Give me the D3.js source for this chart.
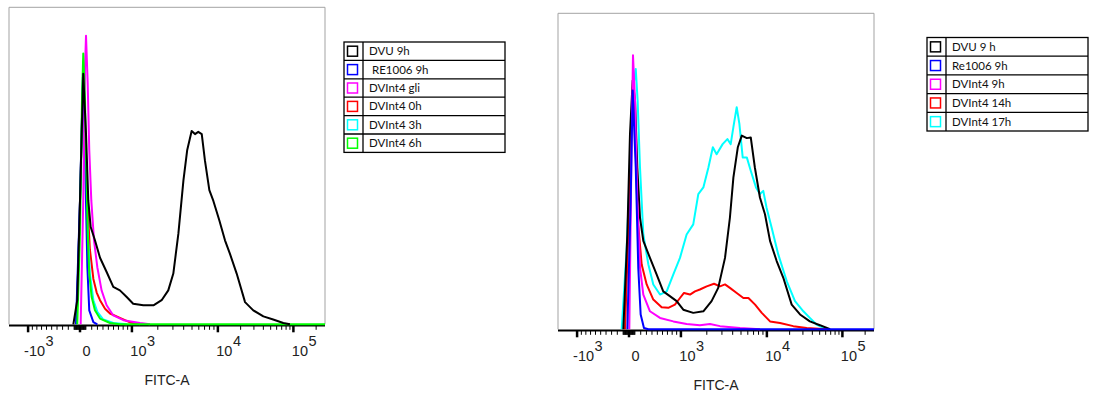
<!DOCTYPE html>
<html>
<head>
<meta charset="utf-8">
<script src="https://cdn.jsdelivr.net/npm/d3@7"></script>
<style>
  body { margin: 0; background: #fff; }
  svg { display: block; }
</style>
</head>
<body>
<div id="chart"></div>
<script>
// histogram data: x = display channel (0-1000 across the FITC-A axis), y = % of plot height
const leftDVU = [[203.6,0],[216,7.6],[224.7,39],[235,79],[243.7,60],[251,39],[258.5,30.7],[272,26.5],[288,21],[309,16.5],[330,11.8],[351,10.7],[372.5,8.6],[393,6.5],[425,6],[457,6],[483,7.6],[504,10.7],[520,16],[536,28.6],[552,45.4],[564,55],[578,61],[588.6,60],[599,60.7],[610,60],[620,51.7],[634,42.3],[646.5,39],[665.5,32.8],[683.5,26.5],[699,22.3],[720.5,16],[747,7],[773,4.4],[805,2.5],[836,1.5],[868,0.4],[889,0]];
const leftRE1006 = [[212,0],[224.7,39],[234,78],[241.5,49],[248,18],[254,4.4],[267,0.7],[279.5,0]];
const leftGli = [[226.8,0],[235,39],[240.5,81],[243.7,91],[249,76],[254,55],[260.5,39],[269,26.5],[279.5,18],[293,10.7],[309,6],[330,2.8],[362,1.3],[414.5,0.4],[446,0]];
const left0h = [[214,0],[224.7,39],[234,77],[241.5,60],[248,39],[256,23.6],[267,14.3],[277.5,10],[288,7.6],[304,4.9],[319.6,3.4],[351,2],[383,0.6],[414.5,0]];
const left3h = [[214,0],[224.7,39],[234,78],[241.5,57],[248,31.5],[256,16],[267,7.6],[279.5,3.9],[298.5,1.5],[330,0.4],[372.5,0]];
const left6h = [[216,0],[224.7,28.6],[231,70.7],[235,85.4],[240.5,70.7],[244.6,49.6],[249,28.6],[254,16],[261.6,8.6],[272,4.4],[288,1.8],[319.6,0.4],[351,0],[1000,0]];

const rightDVU = [[206.8,0],[219.4,30],[227.8,61.8],[236.3,78.7],[243.7,72.4],[251,51.2],[259.5,35.3],[270,28],[291,22.6],[312,17.4],[333,12],[354,10.5],[375.5,8.9],[396.5,6.2],[428,5.2],[460,5.7],[486,8.9],[507,13.1],[528.5,22.6],[544,35.3],[555,48],[569,57.6],[581.6,61.3],[597.5,60.5],[610,60.7],[623,51.2],[639,41.7],[655,36.4],[671,28],[692,21.6],[713,16.3],[739.5,7.8],[766,4.7],[797,2.5],[829,1.3],[861,0]];
const rightRe1006 = [[219.4,0],[230,40.6],[236.3,75.6],[246,51.2],[254,19.5],[261.6,4.7],[272,0.4],[286,0],[1000,0]];
const right9h = [[225.7,0],[232,51.2],[237.3,86.7],[243.7,72.4],[251,40.6],[259.5,19.5],[270,11],[291,5.7],[322.8,3.6],[365,2.5],[407,1.7],[449,1.3],[481,1.7],[512.7,1],[576,0.4],[639,0]];
const right14h = [[212,0],[222.5,30],[230,59.7],[237.3,77.7],[244.6,61.8],[252,35.3],[264.8,20.5],[280.6,14.2],[301.6,9.4],[328,7],[349,6.8],[370,7.8],[386,9.9],[398.7,11.5],[417.7,11],[433.5,12],[449,12.6],[470.5,13.6],[493.7,14.4],[512.7,13.6],[528.5,14.2],[544,13.1],[565.5,11.5],[586.6,9.9],[602.6,9.9],[623.7,7.8],[644.8,5.2],[671,2.5],[702.5,2],[744.7,1],[787,0.4],[850,0]];
const right17h = [[201.5,0],[217,24.8],[230,56.5],[238,76.6],[246,82.4],[252,72.4],[259.5,51.2],[270,30],[286,20.5],[301.6,14.2],[322.8,11],[344,12],[365,17.4],[386,22.6],[407,30],[428,33.2],[444,42.8],[460,44.9],[476,51.2],[490,57.6],[502,55.4],[521,58.6],[536,60.2],[546.5,58.6],[555,64],[565.5,70.3],[574,65],[584.5,54.4],[597.5,54.4],[610,50.2],[626.6,44.9],[639,42.8],[649.6,43.8],[660,38.5],[676,32.2],[697,23.7],[724,15.2],[750,8.9],[776.5,5.7],[797,3.6],[818,1.5],[850,0]];

const leftNames = ["DVU 9h", " RE1006 9h", "DVInt4 gli", "DVInt4 0h", "DVInt4 3h", "DVInt4 6h"];
const leftColors = ["#000000", "#0000ff", "#ff00ff", "#ff0000", "#00ffff", "#00ff00"];
const leftSeries = [leftDVU, leftRE1006, leftGli, left0h, left3h, left6h];
const leftOrder = [3, 4, 1, 2, 5, 0];

const rightNames = ["DVU 9 h", "Re1006 9h", "DVInt4 9h", "DVInt4 14h", "DVInt4 17h"];
const rightColors = ["#000000", "#0000ff", "#ff00ff", "#ff0000", "#00ffff"];
const rightSeries = [rightDVU, rightRe1006, right9h, right14h, right17h];
const rightOrder = [4, 3, 0, 2, 1];

// axis calibration: channel of 0 / 1000 and of each positive decade
const zeroChannel = 224.7;
const thousandChannel = 389;
const decades = [1e3, 1e4, 1e5];
const decadeChannels = [389, 661, 900];
const majorTicks = [-1000, 0, 1000, 1e4, 1e5];
const tickBase = ["-10", "0", "10", "10", "10"];
const tickSup = ["3", "", "3", "4", "5"];
const axisTitle = "FITC-A";

function toChannel(v) {
  const a = Math.abs(v), s = Math.sign(v);
  if (a <= 1000) {
    return zeroChannel + s * (thousandChannel - zeroChannel) * Math.asinh(a / 1000) / Math.asinh(1);
  }
  const lg = Math.log10(a);
  let i = Math.min(Math.floor(lg) - 3, decades.length - 2);
  const c0 = decadeChannels[i], c1 = decadeChannels[i + 1];
  return c0 + (lg - Math.log10(decades[i])) * (c1 - c0);
}

const minorTicks = [];
for (let k = 1; k <= 9; k++) {
  minorTicks.push(k * 10, -k * 10);
  if (k > 1) minorTicks.push(k * 100, -k * 100, k * 1000, k * 1e4);
  else minorTicks.push(100, -100);
}
minorTicks.push(2e5);

const svg = d3.select("#chart").append("svg")
  .attr("width", 1099)
  .attr("height", 394);

const plotW = 316;

function drawPanel(px, py, plotH, series, colors, order) {
  const g = svg.append("g").attr("transform", `translate(${px},${py})`);
  const x = d3.scaleLinear().domain([0, 1000]).range([0, plotW]);
  const y = d3.scaleLinear().domain([0, 100]).range([plotH, 0]);

  g.append("path")
    .attr("d", `M0,${plotH}V0H${plotW}V${plotH}`)
    .attr("fill", "none")
    .attr("stroke", "#a3a3a3")
    .attr("stroke-width", 1);

  // bottom axis line
  g.append("line")
    .attr("x1", 0).attr("x2", plotW)
    .attr("y1", plotH + 1.2).attr("y2", plotH + 1.2)
    .attr("stroke", "#000").attr("stroke-width", 2.2);

  g.selectAll(".minor")
    .data(minorTicks.filter(v => toChannel(v) > 0 && toChannel(v) < 1000))
    .join("line")
    .attr("x1", d => x(toChannel(d))).attr("x2", d => x(toChannel(d)))
    .attr("y1", plotH + 1).attr("y2", plotH + 5.5)
    .attr("stroke", "#000").attr("stroke-width", 1);

  g.selectAll(".major")
    .data(majorTicks)
    .join("line")
    .attr("x1", d => x(toChannel(d))).attr("x2", d => x(toChannel(d)))
    .attr("y1", plotH + 1).attr("y2", plotH + 8)
    .attr("stroke", "#000").attr("stroke-width", 2.5);

  majorTicks.forEach((v, i) => {
    const cx = x(toChannel(v)) + 6.5;
    const t = g.append("text")
      .attr("x", cx).attr("y", plotH + 32)
      .attr("text-anchor", "middle")
      .attr("font-family", "Liberation Sans, Arial, sans-serif")
      .attr("font-size", 14.5)
      .attr("fill", "#222")
      .text(tickBase[i]);
    if (tickSup[i]) {
      const w = t.node().getComputedTextLength();
      g.append("text")
        .attr("x", cx + w / 2 + 0.5).attr("y", plotH + 22)
        .attr("font-family", "Liberation Sans, Arial, sans-serif")
        .attr("font-size", 14.5)
        .attr("fill", "#222")
        .text(tickSup[i]);
    }
  });

  g.append("text")
    .attr("x", plotW / 2).attr("y", plotH + 60.5)
    .attr("text-anchor", "middle")
    .attr("font-family", "Liberation Sans, Arial, sans-serif")
    .attr("font-size", 14)
    .attr("fill", "#222")
    .text(axisTitle);

  const line = d3.line().x(d => x(d[0])).y(d => y(d[1]));
  g.selectAll(".hist")
    .data(order)
    .join("path")
    .attr("d", i => line(series[i]))
    .attr("fill", "none")
    .attr("stroke", i => colors[i])
    .attr("stroke-width", 2)
    .attr("stroke-linejoin", "round");
}

function drawLegend(lx, ly, lw, divX, rowH, names, colors) {
  const g = svg.append("g").attr("transform", `translate(${lx},${ly})`);
  const n = names.length;
  g.append("rect")
    .attr("width", lw).attr("height", rowH * n)
    .attr("fill", "#fff").attr("stroke", "#000").attr("stroke-width", 1.3);
  for (let i = 1; i < n; i++) {
    g.append("line")
      .attr("x1", 0).attr("x2", lw)
      .attr("y1", i * rowH).attr("y2", i * rowH)
      .attr("stroke", "#000").attr("stroke-width", 1.3);
  }
  g.append("line")
    .attr("x1", divX).attr("x2", divX)
    .attr("y1", 0).attr("y2", rowH * n)
    .attr("stroke", "#000").attr("stroke-width", 1.3);
  names.forEach((name, i) => {
    g.append("rect")
      .attr("x", 3.5).attr("y", i * rowH + (rowH - 10) / 2)
      .attr("width", 10).attr("height", 10)
      .attr("fill", "none").attr("stroke", colors[i]).attr("stroke-width", 1.5);
    g.append("text")
      .attr("x", divX + 6).attr("y", i * rowH + rowH / 2 + 4)
      .attr("font-family", "Lato, Liberation Sans, sans-serif")
      .attr("font-size", 11.5)
      .attr("fill", "#111")
      .attr("xml:space", "preserve")
      .style("white-space", "pre")
      .text(name);
  });
}

drawPanel(9, 7.3, 317, leftSeries, leftColors, leftOrder);
drawPanel(558, 13.3, 316, rightSeries, rightColors, rightOrder);
drawLegend(344, 42, 161, 19, 18.4, leftNames, leftColors);
drawLegend(927, 37.5, 161, 19, 18.7, rightNames, rightColors);
</script>
</body>
</html>
